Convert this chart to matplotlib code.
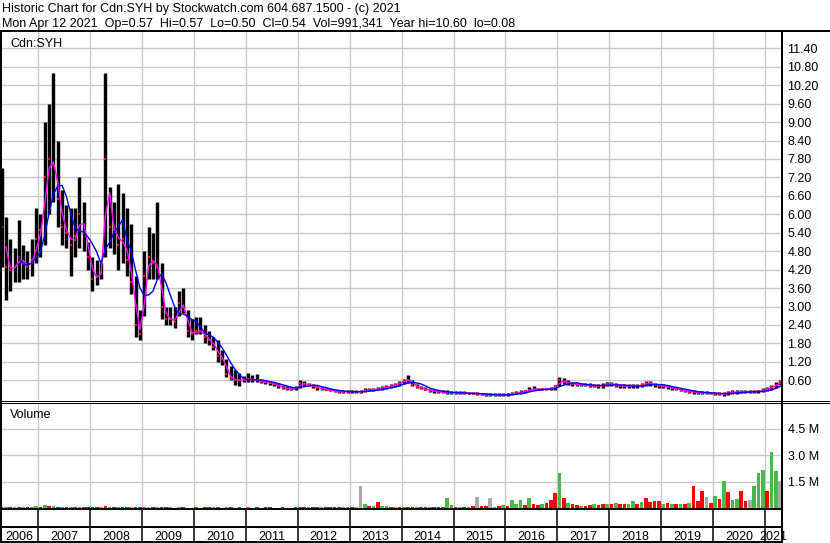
import matplotlib.pyplot as plt
from matplotlib.lines import Line2D
import numpy as np
import pandas as pd

plt.rcParams['font.family'] = ['Liberation Sans', 'DejaVu Sans']

# monthly bars, Apr 2006 .. Apr 2021
months = pd.period_range('2006-04', '2021-04', freq='M')

high_2006 = [7.5, 5.9, 5.2, 4.9, 5.8, 5.0, 4.8, 5.2, 6.2]
low_2006 = [4.3, 3.2, 3.5, 3.8, 3.8, 3.9, 3.9, 4.0, 4.4]
close_2006 = [5.6, 4.3, 4.2, 4.3, 4.6, 4.4, 4.3, 4.5, 5.2]

high_2007 = [6.0, 9.0, 9.6, 10.6, 8.4, 6.8, 6.3, 6.2, 6.2, 7.2, 6.4, 5.1]
low_2007 = [4.6, 5.0, 6.0, 6.4, 5.6, 5.0, 4.9, 4.0, 4.6, 4.9, 4.8, 4.2]
close_2007 = [5.5, 7.2, 7.8, 7.6, 6.5, 5.6, 5.4, 5.0, 5.3, 6.0, 5.4, 4.6]

high_2008 = [4.6, 4.5, 4.4, 10.6, 6.9, 6.4, 7.0, 6.7, 6.2, 5.7, 4.0, 2.9]
low_2008 = [3.5, 3.7, 3.9, 4.6, 4.9, 4.7, 4.2, 4.4, 4.0, 3.4, 2.0, 1.9]
close_2008 = [3.9, 4.0, 4.1, 7.8, 5.6, 5.5, 5.0, 5.2, 4.5, 3.8, 2.4, 2.1]

high_2009 = [4.8, 5.6, 5.4, 6.4, 4.4, 3.0, 3.0, 3.0, 3.5, 3.6, 2.9, 2.6]
low_2009 = [2.7, 3.9, 3.9, 3.9, 2.6, 2.4, 2.4, 2.3, 2.7, 2.8, 2.0, 1.9]
close_2009 = [4.0, 4.6, 4.4, 4.3, 3.0, 2.6, 2.6, 2.5, 3.1, 3.0, 2.2, 2.1]

high_2010 = [2.65, 2.65, 2.4, 2.2, 2.0, 1.9, 1.6, 1.3, 1.05, 0.95, 0.85, 0.75]
low_2010 = [2.1, 2.1, 1.8, 1.75, 1.6, 1.2, 1.1, 0.7, 0.6, 0.45, 0.4, 0.55]
close_2010 = [2.2, 2.2, 2.0, 1.9, 1.7, 1.4, 1.3, 0.8, 0.65, 0.6, 0.6, 0.6]

high_2011 = [.85, .78, .80, .65, .62, .58, .55, .52, .45, .40, .38, .40]
low_2011 = [.55, .55, .55, .50, .48, .45, .42, .36, .32, .28, .27, .28]
close_2011 = [.65, .62, .60, .56, .53, .50, .48, .40, .36, .33, .31, .34]

high_2012 = [.60, .58, .50, .48, .42, .38, .36, .33, .30, .30, .28, .30]
low_2012 = [.35, .42, .40, .36, .30, .28, .27, .24, .21, .20, .19, .19]
close_2012 = [.52, .48, .44, .40, .34, .32, .30, .27, .24, .23, .22, .23]

high_2013 = [.30, .29, .30, .34, .35, .36, .38, .42, .45, .48, .50, .58]
low_2013 = [.20, .19, .20, .22, .25, .26, .27, .30, .32, .35, .38, .42]
close_2013 = [.24, .22, .23, .27, .29, .30, .32, .36, .38, .42, .45, .52]

high_2014 = [.65, .76, .62, .48, .42, .38, .33, .30, .29, .28, .27, .26]
low_2014 = [.48, .52, .40, .35, .32, .27, .22, .20, .19, .18, .17, .16]
close_2014 = [.60, .62, .45, .38, .35, .30, .26, .24, .22, .21, .20, .19]

high_2015 = [.25, .25, .24, .23, .23, .22, .20, .19, .18, .18, .18, .19]
low_2015 = [.16, .15, .15, .14, .14, .13, .11, .10, .09, .08, .09, .10]
close_2015 = [.19, .18, .18, .17, .17, .16, .14, .13, .12, .12, .12, .13]

high_2016 = [.20, .22, .25, .28, .30, .38, .40, .36, .36, .36, .38, .45]
low_2016 = [.10, .12, .15, .17, .20, .24, .27, .27, .27, .28, .28, .30]
close_2016 = [.14, .16, .19, .22, .24, .30, .32, .30, .31, .32, .33, .40]

high_2017 = [.72, .68, .60, .55, .52, .52, .50, .50, .48, .48, .50, .56]
low_2017 = [.40, .48, .45, .42, .40, .40, .40, .38, .37, .36, .36, .40]
close_2017 = [.62, .55, .50, .48, .46, .45, .44, .43, .42, .42, .43, .50]

high_2018 = [.56, .50, .48, .47, .47, .48, .48, .50, .58, .58, .50, .48]
low_2018 = [.42, .38, .36, .36, .35, .36, .36, .38, .42, .42, .38, .36]
close_2018 = [.48, .43, .41, .41, .40, .41, .41, .44, .52, .50, .44, .42]

high_2019 = [.47, .45, .42, .38, .34, .31, .29, .27, .25, .24, .24, .23]
low_2019 = [.35, .33, .30, .27, .24, .21, .19, .17, .16, .15, .15, .14]
close_2019 = [.40, .38, .35, .31, .28, .25, .23, .21, .20, .19, .18, .18]

high_2020 = [.23, .22, .21, .26, .28, .28, .28, .28, .29, .28, .30, .34]
low_2020 = [.13, .12, .08, .13, .16, .17, .18, .18, .18, .18, .19, .22]
close_2020 = [.17, .16, .14, .20, .21, .22, .22, .23, .23, .23, .24, .28]

high_2021 = [.38, .45, .55, .62]
low_2021 = [.26, .30, .36, .45]
close_2021 = [.33, .38, .46, .54]

# volume in millions, colour: g = up, r = down, n = unchanged
vol_2006 = [.06, .05, .04, .05, .06, .05, .04, .08, .10]
vcol_2006 = 'rgrgrgrgg'
vol_2007 = [.06, .17, .12, .10, .05, .04, .04, .04, .04, .05, .04, .03]
vcol_2007 = 'rgrgrgrgrgrr'
vol_2008 = [.03, .03, .05, .12, .06, .04, .04, .03, .04, .04, .03, .03]
vcol_2008 = 'rrgrgrgrrgrr'
vol_2009 = [.03, .03, .04, .03, .03, .03, .03, .02, .03, .03, .02, .02]
vcol_2009 = 'gnrgrrgrgrrg'
vol_2010 = [.03, .02, .03, .03, .04, .03, .02, .03, .03, .02, .03, .02]
vcol_2010 = 'rgrrgrrgrgrr'
vol_2011 = [.03, .02, .03, .02, .03, .03, .02, .02, .03, .02, .02, .03]
vcol_2011 = 'grrgrrgrrgrr'
vol_2012 = [.03, .03, .03, .03, .04, .06, .05, .08, .07, .05, .04, .06]
vcol_2012 = 'rrgrrgrrrrgg'
vol_2013 = [.05, .04, 1.22, .20, .10, .10, .35, .10, .10, .05, .06, .06]
vcol_2013 = 'rnngrgrggrgr'
vol_2014 = [.05, .05, .06, .05, .04, .04, .05, .05, .05, .06, .58, .15]
vcol_2014 = 'grrgrrgrrrgg'
vol_2015 = [.06, .08, .06, .08, .10, .63, .10, .10, .58, .08, .10, .15]
vcol_2015 = 'rnrgrnrrngrg'
vol_2016 = [.10, .44, .20, .44, .15, .54, .20, .15, .20, .30, .45, .83]
vcol_2016 = 'rgggrgrrgrrr'
vol_2017 = [1.98, .54, .30, .20, .15, .12, .10, .15, .20, .15, .20, .25]
vcol_2017 = 'grgrrgrrgrrg'
vol_2018 = [.20, .30, .20, .20, .20, .40, .25, .35, .54, .35, .40, .40]
vcol_2018 = 'rgrrggrgrrrr'
vol_2019 = [.25, .30, .20, .25, .20, .25, .30, 1.22, .40, .95, .62, .30]
vcol_2019 = 'grgrgrgrrrnr'
vol_2020 = [.68, .50, 1.55, .91, .44, .50, .95, .40, .45, 1.22, 1.96, 2.14]
vcol_2020 = 'grgrggrrnggg'
vol_2021 = [.95, 3.20, 2.08, 1.54]
vcol_2021 = 'rggn'

years = range(2006, 2022)
high = np.concatenate([globals()[f'high_{y}'] for y in years])
low = np.concatenate([globals()[f'low_{y}'] for y in years])
close = np.concatenate([globals()[f'close_{y}'] for y in years])
vol = np.concatenate([globals()[f'vol_{y}'] for y in years])
vcol = ''.join(globals()[f'vcol_{y}'] for y in years)

t = months.year + (months.month - 0.5) / 12
ma_short = pd.Series(close).rolling(2).mean()
ma_long = pd.Series(close).rolling(5).mean()
vol_colors = [{'g': '#4cb84c', 'r': '#ff0000', 'n': '#aaaaaa'}[c] for c in vcol]

W, H = 830, 543
PX = 0.72
fig = plt.figure(figsize=(W / 100, H / 100), dpi=100)
fig.patch.set_facecolor('white')


def box(x0, y0, x1, y1):
    return [x0 / W, 1 - y1 / H, (x1 - x0) / W, (y1 - y0) / H]


def px_to_year(x):
    return 2007 + (x - 38.3) / 51.9


XL = (px_to_year(1), px_to_year(782))
grid_col = '#c8c8c8'
year_ticks = np.arange(2007, 2022)

# price panel
ax = fig.add_axes(box(1, 32, 782, 400))
ax.vlines(t, low, high, color='black', lw=3.4 * PX, zorder=2)
ax.plot(t, close, ls='none', marker='s', ms=2.6 * PX, mew=0, color='red', zorder=3)
ax.plot(t, ma_short, color='#ff00ff', lw=1.4 * PX, zorder=4)
ax.plot(t, ma_long, color='#0000ff', lw=1.4 * PX, zorder=5)
ax.set_xlim(XL)
ax.set_ylim(-0.04, 11.93)
ax.set_xticks(year_ticks)
ax.set_xticklabels([])
ax.set_yticks(np.arange(0.6, 11.41, 0.6))
ax.set_yticklabels([f'{v:.2f}' for v in np.arange(0.6, 11.41, 0.6)])
ax.yaxis.tick_right()
ax.tick_params(length=0, labelsize=9, pad=4)
ax.grid(color=grid_col, lw=1.3 * PX)
ax.set_axisbelow(True)
for s in ax.spines.values():
    s.set_visible(False)
ax.text(9 / 781, 1 - 14.7 / 368, 'Cdn:SYH', transform=ax.transAxes, fontsize=9, va='baseline')

# volume panel
axv = fig.add_axes(box(1, 403, 782, 509))
axv.bar(t, vol, width=0.07, color=vol_colors, zorder=2)
axv.set_xlim(XL)
axv.set_ylim(-0.06, 5.97)
axv.set_xticks(year_ticks)
axv.set_xticklabels([])
axv.set_yticks([1.5, 3.0, 4.5])
axv.set_yticklabels(['1.5 M', '3.0 M', '4.5 M'])
axv.yaxis.tick_right()
axv.tick_params(length=0, labelsize=9, pad=4)
axv.grid(color=grid_col, lw=1.3 * PX)
axv.set_axisbelow(True)
for s in axv.spines.values():
    s.set_visible(False)
axv.text(9 / 781, 1 - 15.3 / 106, 'Volume', transform=axv.transAxes, fontsize=9, va='baseline')

# year strip
axy = fig.add_axes(box(1, 509, 782, 541))
axy.set_xlim(XL)
axy.set_ylim(0, 1)
axy.axis('off')
for y in year_ticks:
    axy.axvline(y, color='black', lw=1.5 * PX)
axy.axhline(14 / 32, color='black', lw=2 * PX)
edges = np.concatenate([[XL[0]], year_ticks, [XL[1]]])
for i, yr in enumerate(range(2006, 2022)):
    cx = (edges[i] + min(edges[i + 1], yr + 1)) / 2 if yr < 2021 else 2021.16
    axy.text(cx, 1.5 / 32, str(yr), ha='center', va='baseline', fontsize=9, clip_on=False)


# frame lines
def hline(y, x0=0, x1=W, w=1):
    fig.add_artist(Line2D([x0 / W, x1 / W], [1 - y / H, 1 - y / H], color='black', lw=w * PX))


def vline(x, y0, y1, w=1):
    fig.add_artist(Line2D([x / W, x / W], [1 - y0 / H, 1 - y1 / H], color='black', lw=w * PX))


hline(31, w=2)
hline(400.5, w=1)
hline(403, w=1)
hline(509, 0, 782, w=2)
hline(541.5, 0, 782, w=2)
vline(1, 31, 543, w=2)
vline(782, 31, 543, w=2)

fig.text(2 / W, 1 - 11.7 / H, 'Historic Chart for Cdn:SYH by Stockwatch.com 604.687.1500 - (c) 2021',
         fontsize=9, va='baseline')
fig.text(2 / W, 1 - 26.7 / H,
         'Mon Apr 12 2021  Op=0.57  Hi=0.57  Lo=0.50  Cl=0.54  Vol=991,341  Year hi=10.60  lo=0.08',
         fontsize=9, va='baseline')

fig.savefig('out.png', dpi=100, facecolor='white')
